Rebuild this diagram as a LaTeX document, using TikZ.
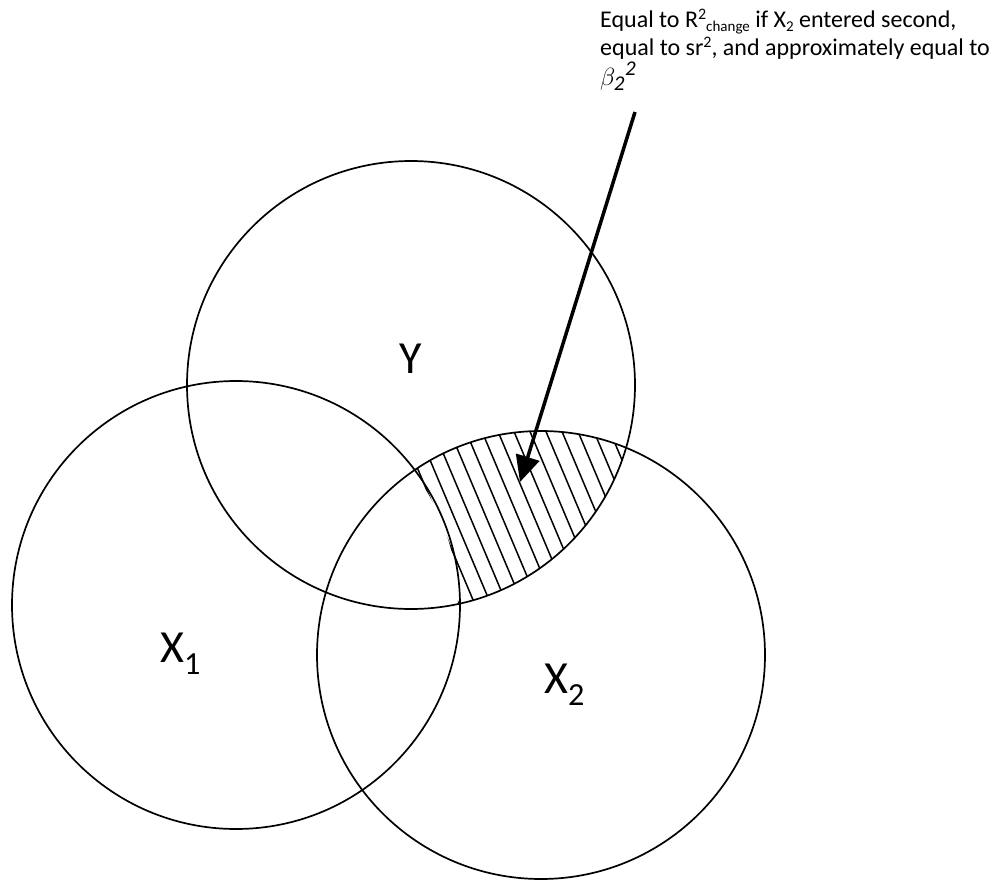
\documentclass[tikz,border=0pt]{standalone}
\usepackage{fontspec}
\setmainfont{Carlito}
\usetikzlibrary{arrows.meta}
\newcommand{\mysup}[1]{\raisebox{8pt}{\fontsize{16}{16}\selectfont #1}}
\newcommand{\mysub}[1]{\raisebox{-4pt}{\fontsize{15}{15}\selectfont #1}}
\begin{document}
\begin{tikzpicture}[x=1pt,y=-1pt,
  circ/.style={draw,line width=1.7pt},
  hatchline/.style={line width=1.5pt},
  lbl/.style={font=\fontsize{46}{50}\selectfont, inner sep=0pt, anchor=base west},
  note/.style={font=\fontsize{24}{28}\selectfont, inner sep=0pt, anchor=base west},
  pointer/.style={line width=3.5pt, -{Triangle[length=26pt,width=24pt]}}]
\useasboundingbox (0,0) rectangle (997,881);
\coordinate (cY) at (411,385);
\coordinate (cA) at (236,605);
\coordinate (cB) at (541,655);
% hatched region: Y and X2, outside X1
\begin{scope}[even odd rule]
  \clip (cY) circle[radius=224pt];
  \clip (cB) circle[radius=224pt];
  \clip (-10,-10) rectangle (1010,900) (cA) circle[radius=222pt];
  \foreach \k in {-12,...,16}
    \draw[hatchline] ({431.7+16*\k-81},{464-192}) -- ({431.7+16*\k+81},{464+192});
\end{scope}
\draw[circ] (cY) circle[radius=224pt];
\draw[circ] (cA) circle[radius=224pt];
\draw[circ] (cB) circle[radius=224pt];
\node[lbl, anchor=base] (ly) at (411,373) {Y};
\node[lbl] (lx1) at (160,662) {X\textsubscript{1}};
\node[lbl] (lx2) at (544,693) {X\textsubscript{2}};
\node[note] (t1) at (600,27) {Equal to R\mysup{2}\mysub{change} if X\mysub{2} entered second,};
\node[note] (t2) at (600,55) {equal to sr\mysup{2}, and approximately equal to};
\node[note, font=\fontsize{30}{32}\selectfont] (t3) at (600,85) {$\beta_{\mathit{2}}{}^{\mathit{2}}$};
\coordinate (as) at (635,112);
\coordinate (ae) at (520,482);
\draw[pointer] (as) -- (ae);
\end{tikzpicture}
\end{document}
